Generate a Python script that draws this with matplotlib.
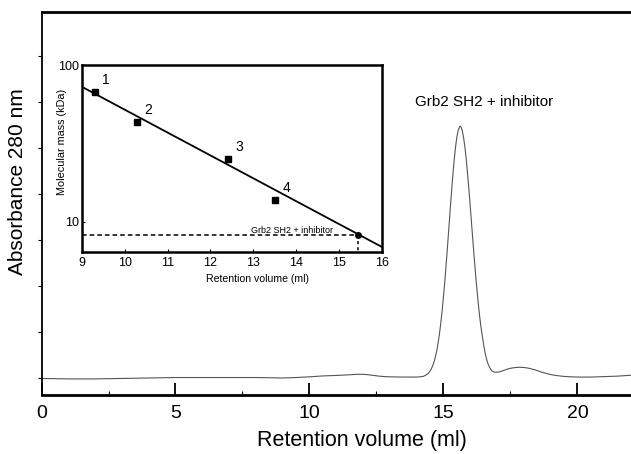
import matplotlib
matplotlib.use("Agg")
import matplotlib.pyplot as plt
from matplotlib.ticker import NullLocator

plt.rcParams['font.family'] = ['Liberation Sans', 'DejaVu Sans']

# chromatogram (A280, arbitrary units, one unit per tick)
vol = [0.0, 1.0, 2.0, 3.0, 4.0, 5.0, 6.0, 7.0, 8.0, 9.0, 9.5, 10.0, 10.5,
       11.0, 11.5, 11.8, 12.0, 12.2, 12.4, 12.6, 12.8, 13.0, 13.5, 14.0, 14.2,
       14.25, 14.30, 14.35, 14.40, 14.45, 14.50, 14.55, 14.60, 14.65, 14.70,
       14.75, 14.80, 14.85, 14.90, 14.95, 15.00, 15.05, 15.10, 15.15, 15.20,
       15.25, 15.30, 15.35, 15.40, 15.45, 15.50, 15.55, 15.60, 15.62, 15.65,
       15.70, 15.75, 15.80, 15.85, 15.90, 15.95, 16.00, 16.05, 16.10, 16.15,
       16.20, 16.25, 16.30, 16.35, 16.40, 16.45, 16.50, 16.55, 16.60, 16.65,
       16.70, 16.75, 16.80, 16.85, 16.90, 16.95, 17.0, 17.1, 17.2, 17.3, 17.4,
       17.5, 17.6, 17.7, 17.8, 17.9, 18.0, 18.1, 18.2, 18.3, 18.4, 18.5, 18.6,
       18.7, 18.8, 18.9, 19.0, 19.2, 19.4, 19.6, 19.8, 20.0, 20.5, 21.0, 21.5,
       22.0]
a280 = [0.00, -0.01, -0.01, 0.00, 0.01, 0.02, 0.02, 0.02, 0.02, 0.01, 0.02,
        0.035, 0.055, 0.065, 0.08, 0.09, 0.09, 0.08, 0.065, 0.05, 0.04, 0.035,
        0.03, 0.03, 0.04, 0.045, 0.06, 0.075, 0.095, 0.12, 0.16, 0.21, 0.28,
        0.36, 0.47, 0.60, 0.77, 0.96, 1.20, 1.46, 1.77, 2.10, 2.47, 2.85, 3.25,
        3.65, 4.04, 4.41, 4.74, 5.02, 5.24, 5.39, 5.46, 5.48, 5.47, 5.39, 5.24,
        5.03, 4.77, 4.45, 4.11, 3.74, 3.36, 2.98, 2.61, 2.26, 1.93, 1.63, 1.36,
        1.12, 0.92, 0.74, 0.57, 0.44, 0.34, 0.27, 0.21, 0.17, 0.15, 0.14, 0.135,
        0.135, 0.145, 0.165, 0.185, 0.205, 0.22, 0.23, 0.238, 0.242, 0.242,
        0.238, 0.23, 0.22, 0.205, 0.19, 0.17, 0.15, 0.13, 0.115, 0.10, 0.085,
        0.065, 0.05, 0.04, 0.035, 0.03, 0.03, 0.04, 0.05, 0.07]

# calibration inset
std_vol = [9.3, 10.3, 12.42, 13.51]
std_mass = [67, 43.3, 25.2, 13.8]
std_labels = ['1', '2', '3', '4']
fit_vol = [9.0, 16.0]
fit_mass = [72.7, 6.9]
sample_vol = 15.45
sample_mass = 8.2

fig = plt.figure(figsize=(6.31, 4.54), dpi=100)

ax = fig.add_axes([0.0658, 0.1289, 0.9342, 0.8436])
ax.plot(vol, a280, color='#555555', lw=0.8)
ax.set_xlim(0, 22)
ax.set_ylim(-0.37, 7.95)
ax.set_xticks([0, 5, 10, 15, 20])
ax.set_xticks([2.5, 7.5, 12.5, 17.5], minor=True)
ax.set_yticks(range(8))
ax.set_yticklabels([])
ax.tick_params(axis='x', which='major', direction='in', length=9, width=1.3,
               labelsize=14, pad=7)
ax.tick_params(axis='x', which='minor', direction='in', length=3, width=0.8)
ax.tick_params(axis='y', direction='out', length=3, width=0.8)
ax.spines['right'].set_visible(False)
ax.spines['bottom'].set_linewidth(2.0)
ax.spines['top'].set_linewidth(2.0)
ax.spines['left'].set_linewidth(1.3)
fig.text(0.027, 0.601, 'Absorbance 280 nm', rotation=90, fontsize=15,
         ha='center', va='center')
fig.text(0.574, 0.029, 'Retention volume (ml)', fontsize=15.5,
         ha='center', va='center')
ax.text(16.5, 6.0, 'Grb2 SH2 + inhibitor', fontsize=11, ha='center', va='center')

# inset
ins = fig.add_axes([0.1295, 0.4456, 0.4759, 0.4112])
ins.set_yscale('log')
ins.plot(fit_vol, fit_mass, color='black', lw=1.3)
ins.plot(std_vol, std_mass, 's', color='black', ms=4)
for xv, yv, lab in zip(std_vol, std_mass, std_labels):
    ins.annotate(lab, (xv, yv), xytext=(11, 12), textcoords='offset pixels',
                 fontsize=10, ha='center', va='center')
ins.plot([9.0, sample_vol], [sample_mass, sample_mass], color='black', lw=1.1,
         ls=(0, (3, 2)))
ins.plot([sample_vol, sample_vol], [sample_mass, 6.44], color='black', lw=1.1,
         ls=(0, (2, 2)))
ins.plot([sample_vol], [sample_mass], 'o', color='black', ms=4)
ins.text(12.95, sample_mass, 'Grb2 SH2 + inhibitor', fontsize=6.5,
         ha='left', va='bottom')
ins.set_xlim(9, 16)
ins.set_ylim(6.44, 100)
ins.set_xticks(range(9, 17))
ins.set_yticks([10, 100])
ins.set_yticklabels(['10', '100'])
ins.yaxis.set_minor_locator(NullLocator())
ins.tick_params(direction='in', length=2, width=0.8, labelsize=9, pad=2)
ins.tick_params(axis='x', pad=4)
ins.set_xlabel('Retention volume (ml)', fontsize=7.6)
ins.set_ylabel('Molecular mass (kDa)', fontsize=7.8)
ins.xaxis.set_label_coords(0.585, -0.118)
ins.yaxis.set_label_coords(-0.048, 0.589)
for s in ins.spines.values():
    s.set_linewidth(1.8)

fig.savefig('out.png', dpi=100)
